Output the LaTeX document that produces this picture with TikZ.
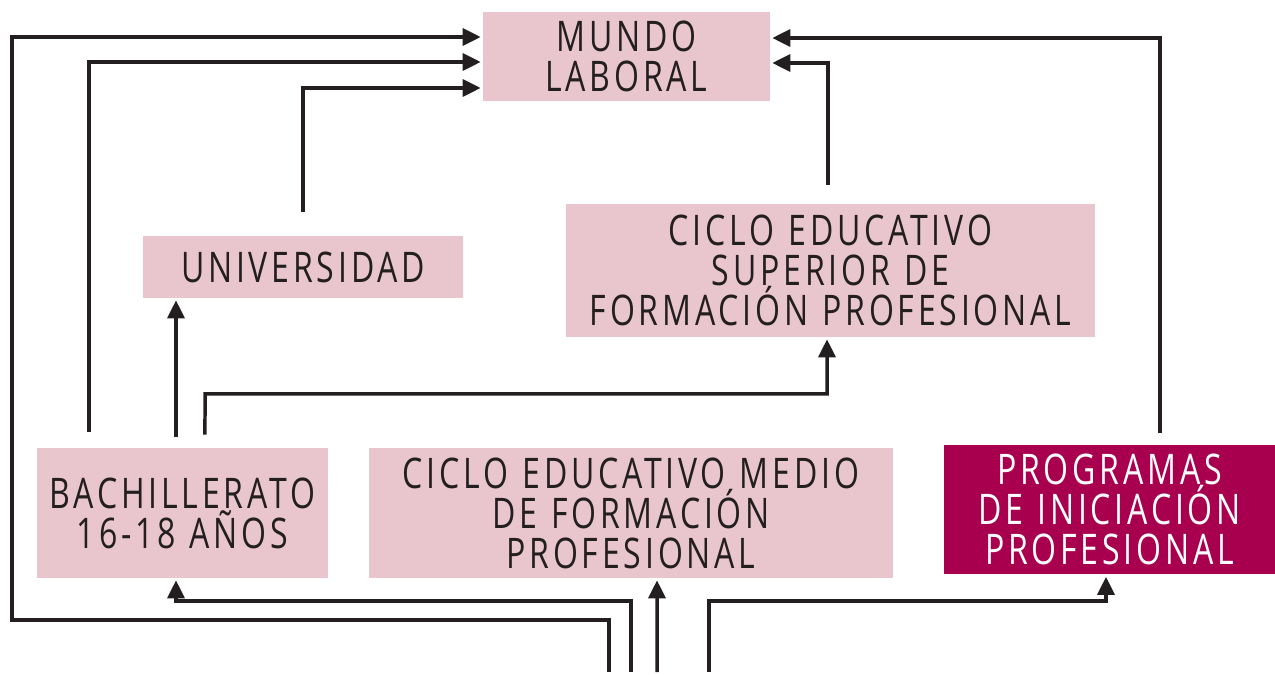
\documentclass[tikz,border=0pt]{standalone}
\usepackage{fontspec}
\setmainfont{Open Sans}[FakeStretch=0.76,LetterSpace=9]
\usepackage{tikz}
\usetikzlibrary{arrows.meta}
\definecolor{rosa}{HTML}{E9C6CE}
\definecolor{vino}{HTML}{A8004F}
\definecolor{tinta}{HTML}{231F20}
\tikzstyle{line} = [draw=tinta, line width=0.07cm, -{Triangle[length=0.36cm,width=0.34cm]}, shorten >=0.04cm]
\tikzstyle{block} = [rectangle, fill=rosa, text=tinta, inner sep=0pt, text centered, font=\fontsize{24}{22.8}\selectfont]
\tikzstyle{dark} = [block, fill=vino, text=white]

\begin{document}
\begin{tikzpicture}[x=0.02cm, y=-0.02cm]
        \useasboundingbox (0,0) rectangle (1275,675);
        \node[block, text width=5.74cm, minimum height=1.78cm] (Mundo) at (626.5,56.5) {MUNDO\\LABORAL};
        \node[block, text width=6.4cm, minimum height=1.24cm] (Universidad) at (303,267) {UNIVERSIDAD};
        \node[block, text width=10.58cm, minimum height=2.66cm] (Superior) at (830.5,270.5) {CICLO EDUCATIVO\\SUPERIOR DE\\FORMACIÓN PROFESIONAL};
        \node[block, text width=5.82cm, minimum height=2.6cm] (Bachillerato) at (182.5,513) {BACHILLERATO\\16-18 AÑOS};
        \node[block, text width=10.48cm, minimum height=2.6cm] (Medio) at (631,513) {CICLO EDUCATIVO MEDIO\\DE FORMACIÓN\\PROFESIONAL};
        \node[dark, text width=6.62cm, minimum height=2.6cm] (Programas) at (1109.5,509.5) {PROGRAMAS\\DE INICIACIÓN\\PROFESIONAL};
        \coordinate (in1) at (609,672);
        \coordinate (in2) at (631,672);
        \coordinate (in3) at (657,672);
        \coordinate (in4) at (709,672);
        \path[line] (in1) |- (12,620) |- ([yshift=0.39cm]Mundo.west);
        \path[line, shorten <=0.32cm] ([xshift=-1.87cm]Bachillerato.north) |- ([yshift=-0.11cm]Mundo.west);
        \path[line, shorten <=0.48cm] (Universidad.north) |- ([yshift=-0.63cm]Mundo.west);
        \path[line, shorten <=0.22cm] ([xshift=-0.13cm]Bachillerato.north) -- ([xshift=-0.13cm]Universidad.south -| Bachillerato.north);
        \path[line, shorten <=0.26cm] ([xshift=0.45cm]Bachillerato.north) -- (205,394) -| ([xshift=-0.07cm]Superior.south);
        \path[line, shorten <=0.38cm] ([xshift=-0.05cm]Superior.north) |- ([yshift=-0.13cm]Mundo.east);
        \path[line, shorten <=0.22cm] ([xshift=1.01cm]Programas.north) |- ([yshift=0.37cm]Mundo.east);
        \path[line] (in2) -- (631,601) -| ([xshift=-0.13cm]Bachillerato.south);
        \path[line] (in3) -- ([xshift=0.52cm]Medio.south);
        \path[line] (in4) -- (709,601) -| ([xshift=-0.07cm]Programas.south);
    \end{tikzpicture}
\end{document}
